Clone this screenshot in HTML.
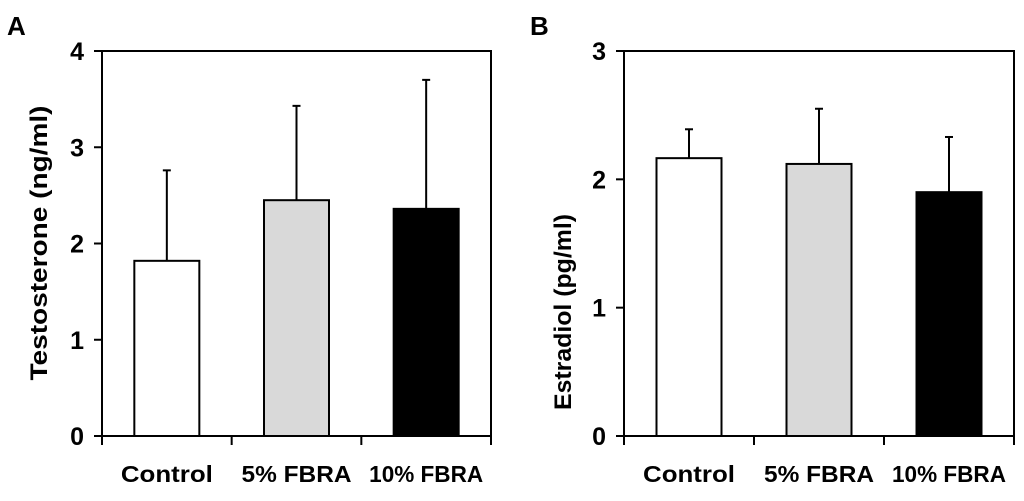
<!DOCTYPE html>
<html><head><meta charset="utf-8"><style>
body{margin:0;background:#fff;}
svg{display:block;font-family:"Liberation Sans",Arial,sans-serif;font-weight:bold;}
</style></head><body>
<svg id="c" width="1024" height="501" xmlns="http://www.w3.org/2000/svg"></svg>
<script>
const categories = ["Control","5% FBRA","10% FBRA"];
const testosteroneMeans = [1.82, 2.45, 2.36];
const testosteroneErrTop = [2.76, 3.43, 3.70];
const estradiolMeans = [2.165, 2.12, 1.90];
const estradiolErrTop = [2.39, 2.55, 2.33];
const ticksA = [0,1,2,3,4];
const ticksB = [0,1,2,3];
const fills = ["#ffffff","#d9d9d9","#000000"];
const catLen = [92, 110, 114];
const NS="http://www.w3.org/2000/svg";
const svg=document.getElementById('c');
function mk(t,a,p){const e=document.createElementNS(NS,t);for(const k in a)e.setAttribute(k,a[k]);(p||svg).appendChild(e);return e;}
function panel(cfg){
  const g=mk('g',{});
  
  
  const x0=cfg.x0,x1=cfg.x1,yb=436,yt=51;
  const ymax=cfg.ticks[cfg.ticks.length-1];
  const y=v=>yb-(v/ymax)*(yb-yt);
  const bw=(x1-x0)/3;
  const xc=i=>x0+bw*(i+0.5);
  const fr=mk('rect',{x:x0,y:yt,width:x1-x0,height:yb-yt,fill:'none',stroke:'#000','stroke-width':2},g);
  
  
  cfg.ticks.forEach(t=>{
    const l=mk('line',{x1:x0-8,x2:x0,y1:y(t),y2:y(t),stroke:'#000','stroke-width':2},g);
    
    
    const tx=mk('text',{x:x0-18,y:y(t)+9,'text-anchor':'end','font-size':25},g);
    tx.textContent=t;
    
    
  });
  for(let i=0;i<=3;i++){
    const l=mk('line',{x1:x0+bw*i,x2:x0+bw*i,y1:yb,y2:yb+9,stroke:'#000','stroke-width':2},g);
    
    
  }
  categories.forEach((c,i)=>{
    const cx=xc(i),w=65;
    const el=mk('line',{x1:cx,x2:cx,y1:y(cfg.err[i]),y2:y(cfg.means[i]),stroke:'#000','stroke-width':2},g);
    
    
    const cap=mk('line',{x1:cx-4,x2:cx+4,y1:y(cfg.err[i]),y2:y(cfg.err[i]),stroke:'#000','stroke-width':2},g);
    
    
    const r=mk('rect',{x:cx-w/2,y:y(cfg.means[i]),width:w,height:yb-y(cfg.means[i]),fill:fills[i],stroke:'#000','stroke-width':2},g);
    
    
    const tx=mk('text',{x:cx,y:482,'text-anchor':'middle','font-size':23,textLength:catLen[i],lengthAdjust:'spacingAndGlyphs'},g);
    tx.textContent=c;
    
    
  });
  const ttl=mk('text',{x:0,y:0,'text-anchor':'middle','font-size':24,textLength:cfg.titleLen,lengthAdjust:'spacingAndGlyphs',transform:`translate(${cfg.titleX},${cfg.titleY}) rotate(-90)`},g);
  ttl.textContent=cfg.title;
  
  
  const lt=mk('text',{x:cfg.letterX,y:35,'font-size':26},g);
  lt.textContent=cfg.letter;
  
  
}
panel({name:'panel-a-testosterone',x0:102,x1:491,ticks:ticksA,means:testosteroneMeans,err:testosteroneErrTop,title:'Testosterone (ng/ml)',titleX:47,titleY:243,titleLen:275,letter:'A',letterX:7});
panel({name:'panel-b-estradiol',x0:624,x1:1014,ticks:ticksB,means:estradiolMeans,err:estradiolErrTop,title:'Estradiol (pg/ml)',titleX:571,titleY:312,titleLen:196,letter:'B',letterX:530});
</script>
</body></html>
